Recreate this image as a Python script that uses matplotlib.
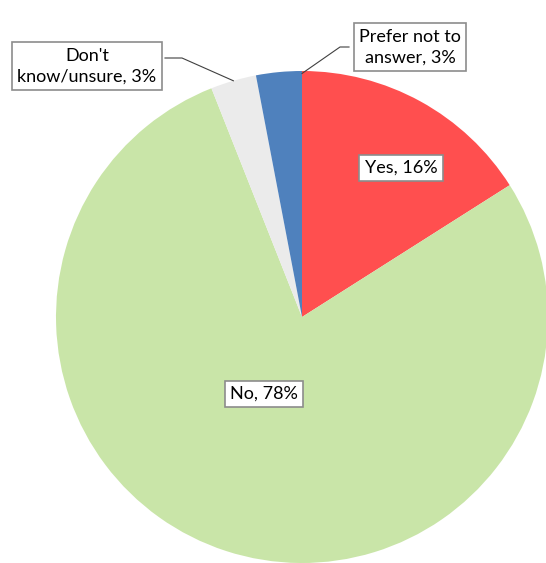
import numpy as np
import matplotlib
matplotlib.use("Agg")
import matplotlib.pyplot as plt

categories = ["Yes", "No", "Don't know/unsure", "Prefer not to answer"]
values = [16, 78, 3, 3]
label_texts = ["Yes, 16%", "No, 78%", "Don't\nknow/unsure, 3%", "Prefer not to\nanswer, 3%"]
colors = ["#FF4F4F", "#C9E5A8", "#EBEBEB", "#4F81BD"]

W, H = 546, 563
fig = plt.figure(figsize=(W / 100, H / 100), dpi=100)
cx, cy, R = 302, 317, 246
ax = fig.add_axes([(cx - R) / W, (H - cy - R) / H, 2 * R / W, 2 * R / H])

wedges, _ = ax.pie(values, colors=colors, startangle=90, counterclock=False,
                   radius=1, wedgeprops=dict(linewidth=0))
for w in wedges:
    w.set_clip_on(False)
ax.set_xlim(-1, 1)
ax.set_ylim(-1, 1)
ax.set_aspect("equal")
ax.axis("off")

def px2d(px, py):
    return ((px - cx) / R, (cy - py) / R)

font = dict(family=["Lato", "DejaVu Sans"], fontsize=13, color="#000000")
box = dict(boxstyle="square,pad=0.3", fc="white", ec="#8C8C8C", lw=1.2)
label_pos = [(401, 168), (264, 394), (87, 66), (410, 47)]
for txt, (px, py) in zip(label_texts, label_pos):
    x, y = px2d(px, py)
    ax.text(x, y, txt, ha="center", va="center", linespacing=1.35, bbox=box,
            clip_on=False, **font)

def wedge_point(w, frac):
    a = np.deg2rad(w.theta1 + (w.theta2 - w.theta1) * frac)
    return np.cos(a), np.sin(a)

# Don't know leader
ex, ey = wedge_point(wedges[2], 0.5)
p1 = px2d(165, 58); p2 = px2d(182, 58)
ax.plot([p1[0], p2[0], ex], [p1[1], p2[1], ey], color="#404040", lw=0.8, clip_on=False)
# Prefer not leader
ex, ey = wedge_point(wedges[3], 0.0)
p1 = px2d(349, 47); p2 = px2d(340, 47)
ax.plot([p1[0], p2[0], ex * 0.99], [p1[1], p2[1], ey * 0.99], color="#404040", lw=0.8, clip_on=False)

fig.savefig("out.png", dpi=100)
